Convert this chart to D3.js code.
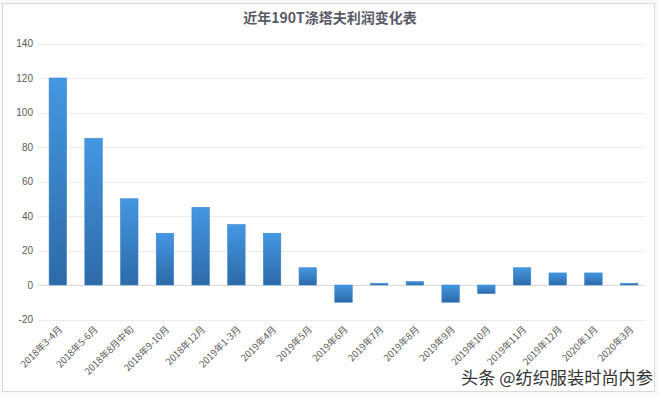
<html>
<meta charset="utf-8">
<script src="https://d3js.org/d3.v7.min.js"></script>
<style>
  body { margin: 0; background: #fafafa; }
  svg { display: block; }
</style>
<body>
<div id="chartContainer"></div>
<script type="text/javascript">
  var WIDTH = 659;
  var HEIGHT = 397;

  // months
  var categories = [
    "2018年3-4月", "2018年5-6月", "2018年8月中旬", "2018年9-10月", "2018年12月",
    "2019年1-3月", "2019年4月", "2019年5月", "2019年6月", "2019年7月",
    "2019年8月", "2019年9月", "2019年10月", "2019年11月", "2019年12月",
    "2020年1月", "2020年3月"
  ];
  // profit values
  var profits = [120, 85, 50, 30, 45, 35, 30, 10, -10, 1, 2, -10, -5, 10, 7, 7, 1];
  var yTicks = [-20, 0, 20, 40, 60, 80, 100, 120, 140];

  var svg = d3.select("#chartContainer").append("svg")
      .attr("width", WIDTH)
      .attr("height", HEIGHT);

  // chart frame
  svg.append("rect")
      .attr("x", 2.5).attr("y", 3.5)
      .attr("width", 652).attr("height", 388)
      .attr("fill", "#fff")
      .attr("stroke", "#d9d9d9");

  var defs = svg.append("defs");
  var grad = defs.append("linearGradient")
      .attr("id", "barGrad")
      .attr("x1", 0).attr("y1", 0).attr("x2", 0).attr("y2", 1);
  grad.append("stop").attr("offset", "0%").attr("stop-color", "#4497e2");
  grad.append("stop").attr("offset", "100%").attr("stop-color", "#2d6aa8");

  var x = d3.scaleBand()
      .domain(categories)
      .range([40, 647])
      .paddingInner(0.51)
      .paddingOuter(0.255);

  var y = d3.scaleLinear()
      .domain([-20, 140])
      .range([319.5, 43.5]);

  // gridlines
  svg.append("g").selectAll("line")
      .data(yTicks)
      .enter().append("line")
      .attr("x1", 38).attr("x2", 645)
      .attr("y1", function (d) { return Math.round(y(d)) + 0.5; })
      .attr("y2", function (d) { return Math.round(y(d)) + 0.5; })
      .attr("stroke", function (d) { return d === 0 ? "#d9d9d9" : "#ececec"; })
      .attr("stroke-width", 1);

  // y labels
  svg.append("g").selectAll("text")
      .data(yTicks)
      .enter().append("text")
      .attr("x", 33)
      .attr("y", function (d) { return y(d) + 3.5; })
      .attr("text-anchor", "end")
      .style("font-family", "'Liberation Sans', Arial, sans-serif")
      .style("font-size", "10px")
      .style("fill", "#595959")
      .text(function (d) { return d; });

  // bars
  svg.append("g").selectAll("rect")
      .data(profits)
      .enter().append("rect")
      .attr("x", function (d, i) { return x(categories[i]); })
      .attr("width", x.bandwidth())
      .attr("y", function (d) { return y(Math.max(0, d)); })
      .attr("height", function (d) { return Math.abs(y(d) - y(0)); })
      .attr("fill", "url(#barGrad)")
      .attr("stroke", "#3b86cc")
      .attr("stroke-width", 0.6);

  // x labels, rotated
  svg.append("g").selectAll("text")
      .data(categories)
      .enter().append("text")
      .attr("transform", function (d) {
        var cx = x(d) + x.bandwidth() / 2 + 5;
        return "translate(" + cx + ",330) rotate(-45)";
      })
      .attr("text-anchor", "end")
      .style("font-family", "'Noto Sans CJK SC', sans-serif")
      .style("font-size", "9.5px")
      .style("fill", "#595959")
      .text(function (d) { return d; });

  // title
  svg.append("text")
      .attr("x", 330)
      .attr("y", 23)
      .attr("text-anchor", "middle")
      .style("font-family", "'Noto Sans CJK SC', sans-serif")
      .style("font-size", "14px")
      .style("font-weight", "bold")
      .style("fill", "#595966")
      .text("近年190T涤塔夫利润变化表");

  // watermark
  svg.append("text")
      .attr("x", 653)
      .attr("y", 384)
      .attr("text-anchor", "end")
      .style("font-family", "'Noto Sans CJK SC', sans-serif")
      .style("font-size", "17.2px")
      .style("fill", "#333")
      .style("stroke", "#fff")
      .style("stroke-width", 3)
      .style("paint-order", "stroke")
      .text("头条 @纺织服装时尚内参");
</script>
</body>
</html>
